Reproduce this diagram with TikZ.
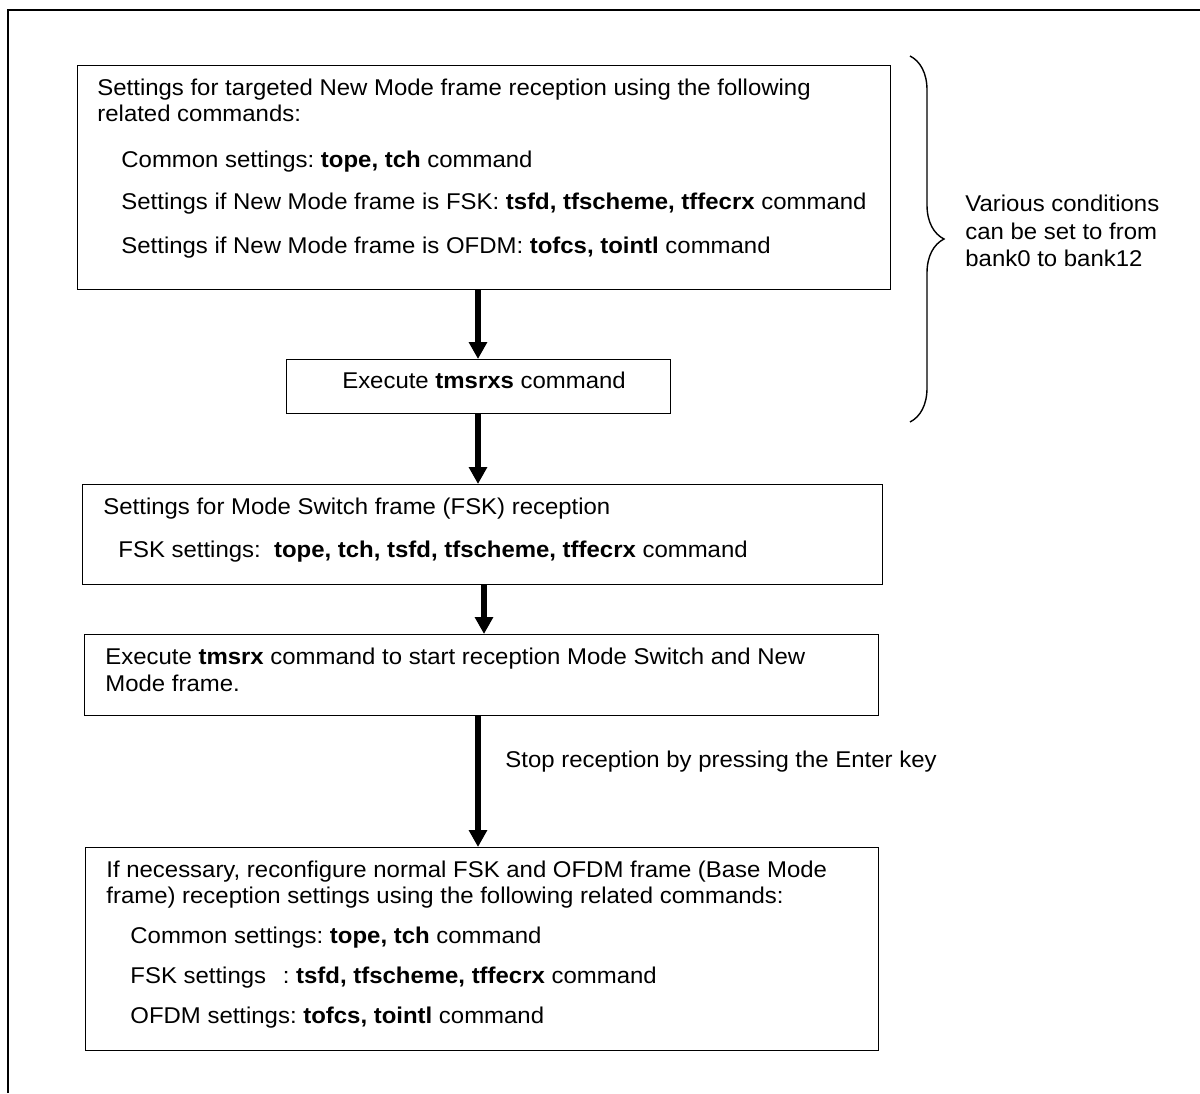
\documentclass[tikz,border=0pt]{standalone}
\usepackage{fontspec}
\setmainfont{Liberation Sans}
\usetikzlibrary{arrows.meta}
\usetikzlibrary{decorations.pathreplacing}
\frenchspacing

\tikzset{
 boxe/.style={draw, line width=.6pt, anchor=north west, inner sep=0pt},
 txt/.style={anchor=mid west, inner sep=0pt, xscale=1.05, font=\fontsize{11.4pt}{13pt}\selectfont},
 flow/.style={line width=3pt, -{Triangle[width=8.8pt,length=8.5pt]}},
}

\begin{document}
\begin{tikzpicture}[x=.5pt, y=-.5pt]
\useasboundingbox (0,0) rectangle (1200,1093);
% outer frame (cut at right and bottom)
\draw[line width=1.3pt] (8,1093) -- (8,10) -- (1200,10);

% boxes
\node[boxe, minimum width=406.5pt, minimum height=112pt] (b1) at (77,65) {};
\node[boxe, minimum width=192pt, minimum height=27pt] (b2) at (286,359) {};
\node[boxe, minimum width=400pt, minimum height=50pt] (b3) at (82,484) {};
\node[boxe, minimum width=397pt, minimum height=40.5pt] (b4) at (84,634) {};
\node[boxe, minimum width=396.5pt, minimum height=101.5pt] (b5) at (85,847) {};

% texts
\node[txt] (t11) at (97,90) {Settings for targeted New Mode frame reception using the following};
\node[txt] (t12) at (97,116) {related commands:};
\node[txt] (t13) at (121,162) {Common settings: \textbf{tope, tch} command};
\node[txt] (t14) at (121,204) {Settings if New Mode frame is FSK: \textbf{tsfd, tfscheme, tffecrx} command};
\node[txt] (t15) at (121,248) {Settings if New Mode frame is OFDM: \textbf{tofcs, tointl} command};

\node[txt, anchor=mid] (t21) at (484,383) {Execute \textbf{tmsrxs} command};

\node[txt] (t31) at (103,509) {Settings for Mode Switch frame (FSK) reception};
\node[txt] (t32) at (118,552) {FSK settings:\ \ \textbf{tope, tch, tsfd, tfscheme, tffecrx} command};

\node[txt] (t41) at (105,659) {Execute \textbf{tmsrx} command to start reception Mode Switch and New};
\node[txt] (t42) at (105,686) {Mode frame.};

\node[txt] (t51) at (106,872) {If necessary, reconfigure normal FSK and OFDM frame (Base Mode};
\node[txt] (t52) at (106,898) {frame) reception settings using the following related commands:};
\node[txt] (t53) at (130,938) {Common settings: \textbf{tope, tch} command};
\node[txt] (t54) at (130,978) {FSK settings\hspace{.7em}: \textbf{tsfd, tfscheme, tffecrx} command};
\node[txt] (t55) at (130,1018) {OFDM settings: \textbf{tofcs, tointl} command};

% arrows
\coordinate (ax1) at (478,0);
\coordinate (ax3) at (484,0);
\coordinate (ax4) at (478,0);
\draw[flow] (b1.south -| ax1) -- (b2.north -| ax1);
\draw[flow] (b2.south -| ax1) -- (b3.north -| ax1);
\draw[flow] (b3.south -| ax3) -- (b4.north -| ax3);
\draw[flow] (b4.south -| ax4) -- (b5.north -| ax4);
\node[txt] (stop) at (505,762) {Stop reception by pressing the Enter key};

% brace
\coordinate (bt) at (910,56);
\coordinate (bb) at (910,422);
\draw[decorate, decoration={brace, amplitude=17pt}, line width=.7pt] (bt) -- (bb);
\node[txt, anchor=west, align=left, font=\fontsize{11.4pt}{13.9pt}\selectfont] (note) at (965,231) {Various conditions\\can be set to from\\bank0 to bank12};
\end{tikzpicture}
\end{document}
